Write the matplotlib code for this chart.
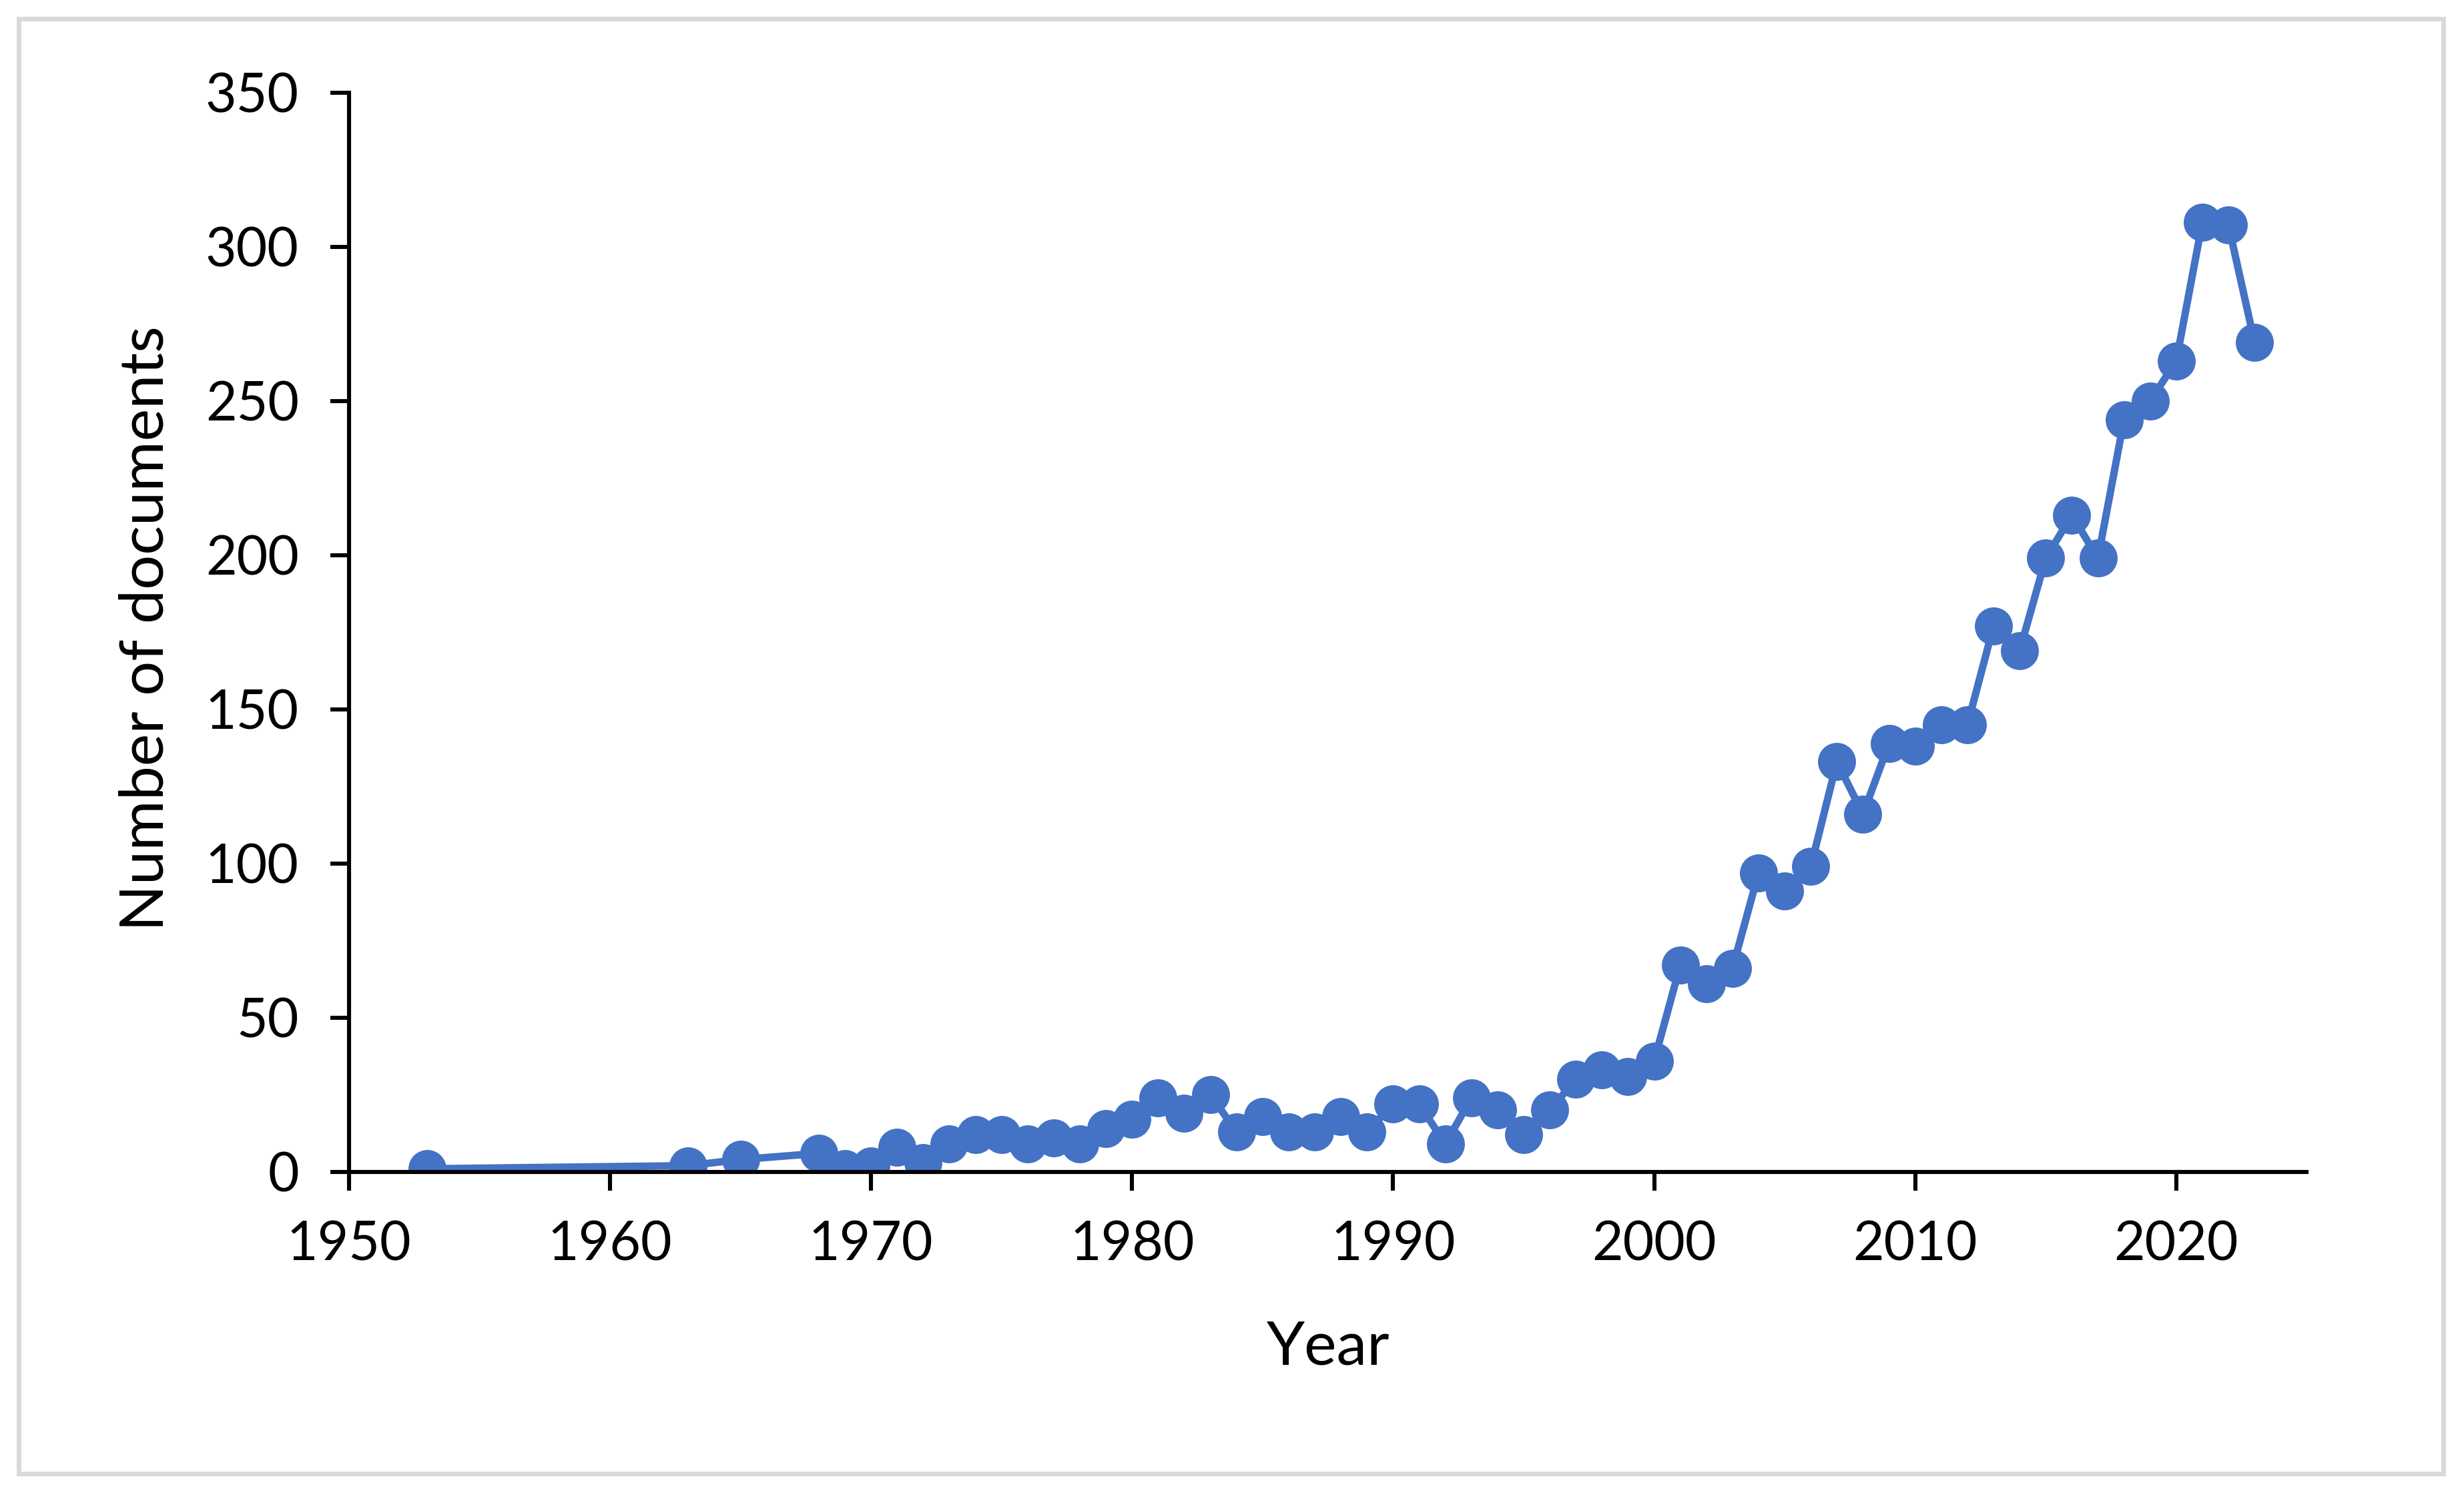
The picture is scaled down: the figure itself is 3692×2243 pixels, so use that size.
import matplotlib
matplotlib.use("Agg")
import matplotlib.pyplot as plt
from matplotlib.patches import Rectangle

years = [1953, 1963, 1965, 1968, 1969, 1970, 1971, 1972, 1973, 1974, 1975, 1976, 1977, 1978, 1979,
         1980, 1981, 1982, 1983, 1984, 1985, 1986, 1987, 1988, 1989, 1990, 1991, 1992, 1993, 1994,
         1995, 1996, 1997, 1998, 1999, 2000, 2001, 2002, 2003, 2004, 2005, 2006, 2007, 2008, 2009,
         2010, 2011, 2012, 2013, 2014, 2015, 2016, 2017, 2018, 2019, 2020, 2021, 2022, 2023]
documents = [1, 2, 4, 6, 1, 2, 8, 3, 9, 12, 12, 9, 11, 9, 14,
             17, 24, 19, 25, 13, 18, 13, 13, 18, 13, 22, 22, 9, 24, 20,
             12, 20, 30, 33, 31, 36, 67, 61, 66, 97, 91, 99, 133, 116, 139,
             138, 145, 145, 177, 169, 199, 213, 199, 244, 250, 263, 308, 307, 269]
x_ticks = [1950, 1960, 1970, 1980, 1990, 2000, 2010, 2020]
y_ticks = [0, 50, 100, 150, 200, 250, 300, 350]

plt.rcParams["font.family"] = ["Lato", "DejaVu Sans"]

fig = plt.figure(figsize=(18.46, 11.215), dpi=200)
ax = fig.add_axes([0.1416, 0.2172, 0.7946, 0.7209])

ax.plot(years, documents, color="#4472C4", linewidth=4, marker="o", markersize=19.5)

ax.set_xlim(1950, 2025)
ax.set_ylim(0, 350)
ax.set_xticks(x_ticks)
ax.set_yticks(y_ticks)
ax.spines["top"].set_visible(False)
ax.spines["right"].set_visible(False)
for s in ["left", "bottom"]:
    ax.spines[s].set_linewidth(2.2)
ax.tick_params(axis="both", direction="out", length=10, width=2.2, labelsize=29, colors="black")
ax.tick_params(axis="y", pad=17)
ax.tick_params(axis="x", pad=16)

fig.text(0.539, 0.0997, "Year", fontsize=33, ha="center", va="center")
fig.text(0.0593, 0.580, "Number of documents", fontsize=33, rotation=90, ha="center", va="center")

# light grey frame around the chart
fig.patches.append(Rectangle((0.0077, 0.0157), 0.984, 0.9717, transform=fig.transFigure,
                             fill=False, edgecolor="#D9D9D9", linewidth=2.5))

fig.savefig("out.png", dpi=200)
